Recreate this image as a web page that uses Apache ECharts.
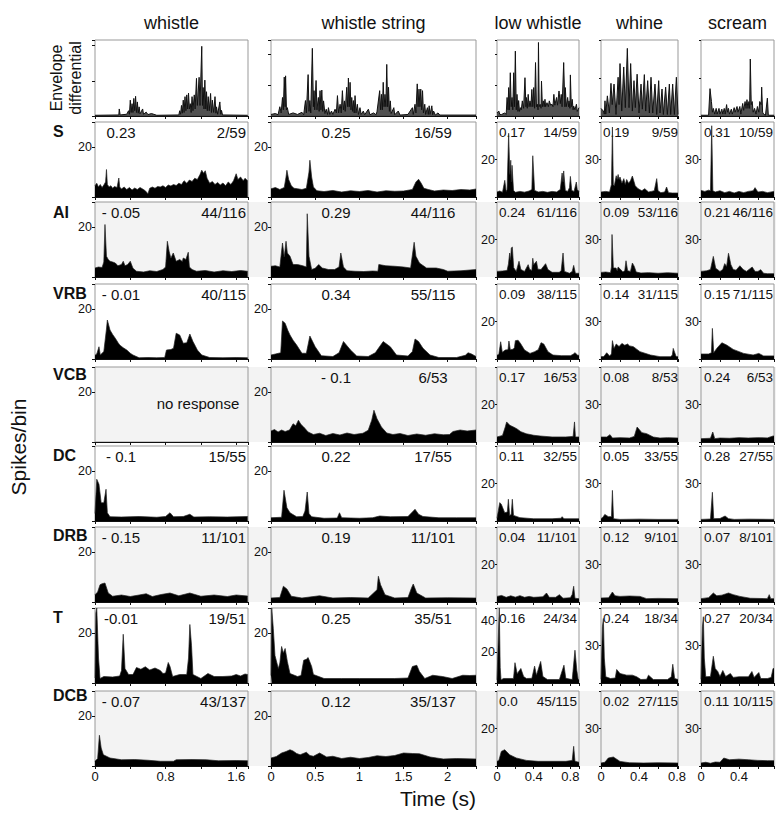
<!DOCTYPE html>
<html><head><meta charset="utf-8">
<script src="https://cdn.jsdelivr.net/npm/echarts@6/dist/echarts.min.js"></script>
<style>html,body{margin:0;padding:0;background:#fff}#main{width:779px;height:814px}</style>
</head><body><div id="main"></div>
<script>
// ---------- categories / labels ----------
const categories = ["whistle","whistle string","low whistle","whine","scream"];
const regions = ["S","AI","VRB","VCB","DC","DRB","T","DCB"];
const correlations = [
  ["0.23","0.25","0.17","0.19","0.31"],
  ["- 0.05","0.29","0.24","0.09","0.21"],
  ["- 0.01","0.34","0.09","0.14","0.15"],
  ["","- 0.1","0.17","0.08","0.24"],
  ["- 0.1","0.22","0.11","0.05","0.28"],
  ["- 0.15","0.19","0.04","0.12","0.07"],
  ["-0.01","0.25","0.16","0.24","0.27"],
  ["- 0.07","0.12","0.0","0.02","0.11"]
];
const fractions = [
  ["2/59","16/59","14/59","9/59","10/59"],
  ["44/116","44/116","61/116","53/116","46/116"],
  ["40/115","55/115","38/115","31/115","71/115"],
  ["","6/53","16/53","8/53","6/53"],
  ["15/55","17/55","32/55","33/55","27/55"],
  ["11/101","11/101","11/101","9/101","8/101"],
  ["19/51","35/51","24/34","18/34","20/34"],
  ["43/137","35/137","45/115","27/115","10/115"]
];
const xTickLabels = [["0","0.8","1.6"],["0","0.5","1","1.5","2"],["0","0.4","0.8"],["0","0.4","0.8"],["0","0.4"]];
const yTickLabels = [["20"],["20"],["20"],["30"],["30"]];
const yTickLabelsTLow = ["20","40"];
const xMax = [1.734,2.32,0.894,0.81,0.77];
const xStep = [0.4,0.5,0.2,0.2,0.2];
const envMax = [2.16,2.46,2.46,2,2];
const histMax = [30,30,40,60,60];
const histMaxTLow = 48;
const yStep = [20,20,20,30,30];

// ---------- envelope differential ----------
const env_whistle = [[0,0.02],[0.27,0.03],[0.275,0.2],[0.285,0.03],[0.36,0.05],[0.38,0.15],[0.39,0.05],[0.40,0.45],[0.41,0.1],[0.42,0.35],[0.43,0.1],[0.44,0.5],[0.45,0.15],[0.46,0.56],[0.47,0.1],[0.48,0.4],[0.49,0.08],[0.50,0.26],[0.51,0.06],[0.54,0.2],[0.55,0.05],[0.58,0.11],[0.6,0.04],[0.64,0.07],[0.7,0.02],[0.95,0.03],[0.96,0.15],[0.97,0.05],[0.98,0.3],[0.99,0.08],[1.0,0.45],[1.01,0.1],[1.02,0.55],[1.03,0.15],[1.04,0.6],[1.05,0.2],[1.06,0.65],[1.07,0.2],[1.08,0.35],[1.09,0.1],[1.1,0.55],[1.11,0.15],[1.125,0.6],[1.135,0.2],[1.15,1.07],[1.16,0.3],[1.18,1.1],[1.19,0.3],[1.21,1.98],[1.218,0.3],[1.226,0.81],[1.235,0.2],[1.245,1.02],[1.255,0.2],[1.264,0.69],[1.273,0.15],[1.283,0.55],[1.295,0.15],[1.31,0.64],[1.32,0.1],[1.33,0.45],[1.345,0.1],[1.36,0.55],[1.37,0.08],[1.377,0.26],[1.39,0.05],[1.415,0.4],[1.425,0.05],[1.434,0.16],[1.445,0.03],[1.45,0.02],[1.73,0.02]];
const env_string = [[0,0.05],[0.05,0.08],[0.08,0.04],[0.1,0.3],[0.115,0.1],[0.13,0.6],[0.14,0.2],[0.15,1.26],[0.16,0.3],[0.165,1.3],[0.175,0.2],[0.185,0.27],[0.2,0.05],[0.25,0.1],[0.3,0.05],[0.35,0.12],[0.37,0.04],[0.39,0.5],[0.4,0.1],[0.42,1.34],[0.43,0.15],[0.44,0.5],[0.45,0.1],[0.468,2.19],[0.48,0.3],[0.487,0.82],[0.495,0.2],[0.51,1.15],[0.52,0.2],[0.536,0.6],[0.545,0.15],[0.555,0.82],[0.565,0.2],[0.575,0.84],[0.585,0.15],[0.595,0.49],[0.61,0.08],[0.625,0.22],[0.64,0.05],[0.65,0.27],[0.665,0.05],[0.685,0.16],[0.7,0.05],[0.725,0.22],[0.74,0.1],[0.752,0.66],[0.765,0.1],[0.782,0.38],[0.795,0.1],[0.808,0.82],[0.82,0.2],[0.831,0.49],[0.84,0.15],[0.857,0.93],[0.868,0.3],[0.876,1.23],[0.886,0.3],[0.895,1.09],[0.905,0.2],[0.914,0.6],[0.924,0.15],[0.932,0.5],[0.942,0.1],[0.951,0.66],[0.962,0.1],[0.977,0.38],[0.99,0.05],[1.007,0.27],[1.02,0.05],[1.045,0.16],[1.06,0.04],[1.102,0.22],[1.12,0.04],[1.16,0.1],[1.19,0.04],[1.2,0.15],[1.23,0.82],[1.24,0.2],[1.25,0.7],[1.26,0.2],[1.27,1.09],[1.28,0.3],[1.29,0.7],[1.3,0.3],[1.31,1.67],[1.32,0.3],[1.33,0.93],[1.34,0.15],[1.35,0.49],[1.36,0.08],[1.39,0.27],[1.4,0.04],[1.44,0.16],[1.46,0.03],[1.55,0.05],[1.6,0.27],[1.61,0.05],[1.63,0.38],[1.64,0.1],[1.655,1.04],[1.665,0.3],[1.675,0.87],[1.685,0.3],[1.695,0.87],[1.705,0.2],[1.715,0.82],[1.725,0.1],[1.74,0.38],[1.75,0.05],[1.77,0.27],[1.78,0.05],[1.79,0.33],[1.8,0.05],[1.82,0.33],[1.83,0.04],[1.84,0.16],[1.86,0.03],[1.89,0.1],[1.91,0.03],[2.32,0.03]];
const env_low = [[0,0.1],[0.02,0.16],[0.03,0.05],[0.05,0.05],[0.085,0.1],[0.1,0.05],[0.11,0.6],[0.12,0.2],[0.127,0.92],[0.135,0.2],[0.145,1.4],[0.155,0.3],[0.164,0.6],[0.172,0.2],[0.182,1.4],[0.19,0.3],[0.2,2.1],[0.21,0.2],[0.218,0.7],[0.228,0.15],[0.236,0.5],[0.245,0.15],[0.255,0.27],[0.265,0.2],[0.276,0.49],[0.29,0.25],[0.305,1.24],[0.315,0.3],[0.32,0.6],[0.33,0.25],[0.34,0.7],[0.35,0.3],[0.36,0.49],[0.37,0.3],[0.38,0.86],[0.39,0.3],[0.4,0.92],[0.41,0.25],[0.42,1.73],[0.43,0.3],[0.44,0.38],[0.447,0.2],[0.452,2.38],[0.46,0.3],[0.47,0.38],[0.48,0.25],[0.485,1.13],[0.495,0.3],[0.505,0.49],[0.515,0.3],[0.523,0.54],[0.53,0.3],[0.545,0.43],[0.56,0.3],[0.57,0.49],[0.585,0.35],[0.6,0.38],[0.61,0.3],[0.62,0.7],[0.63,0.35],[0.65,0.6],[0.66,0.35],[0.676,0.81],[0.69,0.4],[0.7,0.7],[0.71,0.3],[0.727,1.73],[0.74,0.3],[0.745,0.92],[0.755,0.3],[0.77,0.6],[0.78,0.3],[0.785,0.49],[0.795,0.25],[0.8,1.33],[0.81,0.3],[0.82,0.54],[0.83,0.2],[0.836,0.32],[0.85,0.2],[0.866,0.38],[0.875,0.15],[0.894,0.27]];
const env_whine = [[0,0.2],[0.025,0.13],[0.035,0.05],[0.042,0.4],[0.05,0.05],[0.067,0.53],[0.088,0.08],[0.105,0.86],[0.118,0.3],[0.137,0.84],[0.158,0.04],[0.18,1.02],[0.19,0.3],[0.2,1.38],[0.218,0.13],[0.239,1.29],[0.256,0.22],[0.277,1.78],[0.295,0.22],[0.312,1.38],[0.33,0.13],[0.347,0.93],[0.361,0.22],[0.38,1.1],[0.4,0.08],[0.421,0.84],[0.435,0.18],[0.456,1.09],[0.47,0.13],[0.491,0.93],[0.509,0.08],[0.526,1.02],[0.544,0.08],[0.568,0.84],[0.586,0.04],[0.607,0.93],[0.621,0.08],[0.642,0.71],[0.656,0.04],[0.68,0.76],[0.698,0.04],[0.719,0.84],[0.733,0.04],[0.754,0.84],[0.772,0.04],[0.793,1.02],[0.81,0.04]];
const env_scream = [[0,0.02],[0.08,0.02],[0.095,0.72],[0.11,0.38],[0.12,0.1],[0.13,0.2],[0.145,0.05],[0.16,0.2],[0.17,0.05],[0.19,0.2],[0.2,0.05],[0.22,0.18],[0.23,0.05],[0.245,0.2],[0.255,0.05],[0.27,0.3],[0.28,0.1],[0.29,0.2],[0.3,0.05],[0.32,0.18],[0.33,0.05],[0.35,0.22],[0.36,0.1],[0.38,0.25],[0.39,0.1],[0.41,0.25],[0.42,0.05],[0.44,0.33],[0.45,0.15],[0.465,0.38],[0.475,0.2],[0.485,0.43],[0.495,0.2],[0.505,0.38],[0.513,0.2],[0.52,1.5],[0.53,0.3],[0.54,0.38],[0.55,0.1],[0.565,0.2],[0.58,0.05],[0.595,0.25],[0.61,0.1],[0.62,0.38],[0.635,0.3],[0.64,0.76],[0.65,0.1],[0.66,0.05],[0.68,0.02],[0.7,0.47],[0.71,0.02],[0.772,0.02]];

// ---------- spikes/bin: S ----------
const S_whistle = [[0,4.5],[0.02,5.5],[0.04,4],[0.06,5],[0.08,3.8],[0.1,4.8],[0.12,6],[0.13,11],[0.14,5],[0.16,4],[0.18,4.5],[0.2,3.5],[0.22,4.2],[0.25,3.8],[0.27,7.6],[0.28,4],[0.3,3.2],[0.33,4],[0.36,3],[0.39,3.8],[0.42,2.8],[0.45,3.6],[0.48,3],[0.51,3.8],[0.54,3.2],[0.57,2.5],[0.6,1.3],[0.62,3.5],[0.65,4],[0.68,3.5],[0.71,4.2],[0.74,4],[0.77,4.5],[0.8,3.8],[0.83,4.8],[0.86,4.4],[0.89,5],[0.92,4.6],[0.95,5.5],[0.98,5],[1.01,6.5],[1.04,5.5],[1.07,6.8],[1.1,6.2],[1.13,7.5],[1.16,7],[1.19,9],[1.21,10.7],[1.23,9.5],[1.25,10.5],[1.27,7.5],[1.3,5.5],[1.33,6.2],[1.36,5],[1.39,5.8],[1.42,4.8],[1.45,5.6],[1.48,4.5],[1.51,6],[1.54,5],[1.57,6.5],[1.6,9.3],[1.62,7],[1.65,8],[1.68,6.5],[1.7,7.5],[1.73,6.5]];
const S_string = [[0,3.3],[0.05,3.8],[0.1,3],[0.15,3.8],[0.17,8],[0.18,10.7],[0.2,7],[0.23,4.5],[0.26,3.5],[0.3,3.3],[0.35,3],[0.4,3.5],[0.43,10],[0.44,14.7],[0.46,8],[0.48,4],[0.52,2.5],[0.6,2.2],[0.7,2.6],[0.8,2],[0.9,2.5],[1.0,2.2],[1.1,2.6],[1.2,2],[1.3,2.5],[1.4,2.3],[1.5,2.4],[1.6,3],[1.64,6],[1.67,7.1],[1.7,5.5],[1.73,3.5],[1.78,3],[1.85,2.4],[1.95,2.8],[2.05,2.6],[2.15,3],[2.25,2.8],[2.32,3.2]];
const S_low = [[0,2.7],[0.03,3.2],[0.06,2.5],[0.085,8.9],[0.1,3],[0.11,4],[0.127,34],[0.14,12],[0.15,19.6],[0.157,8],[0.164,16.9],[0.18,3.6],[0.2,2.5],[0.25,3],[0.3,2.6],[0.35,3.2],[0.38,4],[0.39,22],[0.41,3.5],[0.45,2.7],[0.5,3],[0.55,2.5],[0.6,3],[0.65,2.7],[0.69,4],[0.71,12.8],[0.72,8],[0.727,13.9],[0.745,3.5],[0.77,3],[0.79,5],[0.8,11],[0.815,3.5],[0.84,3],[0.865,8],[0.875,4],[0.894,3]];
const S_whine = [[0,4],[0.05,4.5],[0.09,4],[0.11,10],[0.12,56],[0.13,10],[0.14,9],[0.16,17],[0.17,14],[0.18,18],[0.19,14],[0.2,16],[0.22,11],[0.24,14.7],[0.255,10],[0.27,14],[0.29,11],[0.31,13],[0.33,16.8],[0.36,9],[0.39,6.7],[0.43,5],[0.46,6.7],[0.5,4],[0.53,4.5],[0.56,5],[0.586,14.7],[0.6,5],[0.63,3.5],[0.67,4],[0.69,8],[0.71,3.5],[0.75,3.2],[0.81,3.2]];
const S_scream = [[0,5.3],[0.04,4.5],[0.08,5.5],[0.1,5],[0.113,57],[0.125,5],[0.15,4],[0.2,5],[0.25,3.5],[0.3,4.5],[0.35,3.2],[0.4,4.5],[0.45,3.5],[0.5,4.5],[0.55,5],[0.57,7.5],[0.6,4],[0.65,4.5],[0.7,3.5],[0.77,4.5]];
// ---------- AI ----------
const AI_whistle = [[0,3.6],[0.04,4],[0.08,3.8],[0.1,6],[0.113,21],[0.125,12],[0.13,8.3],[0.15,7],[0.17,6.3],[0.2,6],[0.23,5.6],[0.26,4.5],[0.3,5],[0.32,6.3],[0.34,4.5],[0.37,5],[0.4,6.3],[0.43,3.5],[0.47,2.3],[0.55,2],[0.62,2.5],[0.7,2.2],[0.77,3],[0.8,4],[0.82,14.3],[0.84,10.3],[0.86,7.5],[0.887,9.6],[0.92,6.3],[0.96,7],[0.99,6.2],[1.0,7.6],[1.03,7],[1.057,9.9],[1.07,4],[1.1,3],[1.15,2.3],[1.25,2.6],[1.35,2],[1.45,2.5],[1.55,2.2],[1.65,2.6],[1.73,2.3]];
const AI_string = [[0,4.3],[0.05,4.5],[0.1,4],[0.13,13.6],[0.15,8],[0.17,14.3],[0.185,9.6],[0.215,8.3],[0.25,5],[0.3,5],[0.36,4.5],[0.4,4],[0.41,25.3],[0.43,8.3],[0.46,3],[0.5,3.5],[0.54,5],[0.58,3.6],[0.65,3],[0.72,3],[0.77,4],[0.79,9.6],[0.82,4],[0.86,2.5],[0.95,2.3],[1.05,2.2],[1.15,2.4],[1.21,2.3],[1.22,5],[1.3,4.5],[1.4,4.3],[1.5,4],[1.58,3.6],[1.62,13.9],[1.64,8.3],[1.68,5.6],[1.76,3.6],[1.87,3.6],[1.95,3],[2.0,2.3],[2.15,2.5],[2.32,3]];
const AI_low = [[0,3],[0.06,3.2],[0.11,3.5],[0.125,7],[0.138,12.8],[0.148,9],[0.156,15.5],[0.167,16],[0.182,5],[0.21,3],[0.24,8.4],[0.26,4],[0.3,3],[0.34,6.6],[0.355,4.2],[0.38,3.5],[0.39,10],[0.4,6.6],[0.43,8.4],[0.445,4.2],[0.48,4],[0.53,7.1],[0.555,4],[0.6,2.5],[0.68,2.5],[0.7,3.5],[0.72,12.8],[0.735,3],[0.79,2],[0.82,3],[0.836,6.2],[0.855,2],[0.894,2]];
const AI_whine = [[0,3.7],[0.05,4],[0.1,3.5],[0.11,8],[0.116,34],[0.13,7.2],[0.158,7.2],[0.17,5],[0.18,8],[0.207,6],[0.23,4],[0.25,5],[0.263,13],[0.28,5],[0.31,4.5],[0.33,11.2],[0.35,8.5],[0.37,4],[0.42,3.2],[0.5,3.5],[0.6,3],[0.7,3.4],[0.81,3]];
const AI_scream = [[0,4.5],[0.06,5],[0.1,6],[0.13,16.5],[0.155,7],[0.2,4.5],[0.23,6],[0.25,10.7],[0.27,8.5],[0.29,19],[0.315,9.9],[0.34,6],[0.37,5.5],[0.41,9],[0.445,6],[0.48,4.5],[0.54,8],[0.57,4.5],[0.6,4.5],[0.63,5.9],[0.66,3],[0.7,2.7],[0.77,2.7]];
// ---------- VRB ----------
const VRB_whistle = [[0,1.5],[0.02,2],[0.045,4.9],[0.06,1.6],[0.1,3],[0.13,12],[0.14,15.6],[0.17,11.6],[0.2,9.8],[0.23,8.3],[0.26,6.6],[0.28,5.6],[0.32,4.5],[0.36,3.6],[0.4,2.3],[0.43,1.6],[0.5,0.5],[0.6,0.6],[0.7,0.5],[0.79,0.6],[0.81,3.6],[0.86,3.8],[0.89,4.3],[0.92,10.3],[0.96,9.6],[1.0,6.3],[1.04,6.5],[1.075,10],[1.11,7],[1.14,5],[1.16,3.6],[1.21,1.6],[1.3,0.6],[1.45,0.5],[1.6,0.6],[1.73,0.5]];
const VRB_string = [[0,1.6],[0.05,2],[0.11,2.5],[0.13,15.2],[0.16,14.3],[0.19,11.5],[0.215,9.6],[0.25,7.5],[0.29,5.6],[0.35,2.3],[0.4,2.3],[0.44,9.2],[0.5,4.9],[0.57,1.3],[0.7,1],[0.77,2.5],[0.82,7],[0.9,3.6],[0.97,1.2],[1.1,1],[1.18,2.5],[1.27,7],[1.35,4.9],[1.42,1.6],[1.55,1.2],[1.6,3],[1.63,8],[1.67,7],[1.72,4.3],[1.8,1.6],[1.9,0.6],[2.1,0.6],[2.2,1.5],[2.23,2.5],[2.27,2],[2.32,1]];
const VRB_low = [[0,2],[0.02,2.5],[0.04,9.2],[0.058,3.6],[0.09,4.8],[0.12,5],[0.13,9.6],[0.145,5],[0.175,5.2],[0.19,6],[0.2,9.8],[0.23,10],[0.255,8.4],[0.3,4.8],[0.36,3],[0.41,3.9],[0.45,5],[0.48,8.7],[0.51,8],[0.556,3.9],[0.61,2.1],[0.7,1.8],[0.8,1.8],[0.83,2.5],[0.85,3.4],[0.88,2],[0.894,2]];
const VRB_whine = [[0,1.9],[0.03,2],[0.06,5],[0.09,2.5],[0.11,4],[0.12,14.7],[0.137,8.5],[0.16,12],[0.19,10],[0.22,12.5],[0.25,11],[0.28,12],[0.3,10.5],[0.34,9.9],[0.41,5.9],[0.52,3.2],[0.62,1.9],[0.73,1.9],[0.75,3],[0.76,8.5],[0.79,2],[0.81,1.9]];
const VRB_scream = [[0,4],[0.08,4],[0.11,5],[0.12,24.5],[0.134,5],[0.166,8.5],[0.22,13],[0.27,11.2],[0.34,7.7],[0.45,4.5],[0.55,3.2],[0.61,4.5],[0.66,2.5],[0.77,2.5]];
// ---------- VCB ----------
const VCB_whistle = [];
const VCB_string = [[0,4.4],[0.04,5],[0.08,4],[0.12,4.8],[0.16,4.2],[0.21,4.8],[0.25,7.3],[0.28,6.5],[0.31,8.7],[0.34,7],[0.37,6],[0.42,4],[0.48,3],[0.55,3.5],[0.62,2.6],[0.7,3.4],[0.78,2.8],[0.86,3.6],[0.94,3],[1.04,3.5],[1.1,4.7],[1.14,8.7],[1.165,12.7],[1.2,9.3],[1.25,6],[1.31,3.6],[1.38,3],[1.46,3.4],[1.55,2.6],[1.65,3.2],[1.75,2.7],[1.85,3.3],[1.95,2.9],[2.02,3],[2.06,4.2],[2.14,4.8],[2.22,4.4],[2.32,4.8]];
const VCB_low = [[0,2.7],[0.06,3.5],[0.09,8],[0.105,10.7],[0.14,8.9],[0.18,8],[0.215,7.1],[0.26,5.5],[0.32,4.4],[0.4,3.6],[0.47,3.2],[0.6,2.7],[0.75,2.7],[0.83,3],[0.845,10.7],[0.855,2.7],[0.894,2.7]];
const VCB_whine = [[0,4],[0.06,4],[0.095,5.9],[0.12,3.2],[0.2,3.5],[0.3,3.2],[0.35,4.5],[0.38,12],[0.43,7.5],[0.48,6.7],[0.55,4],[0.62,3.2],[0.7,3.5],[0.81,3.2]];
const VCB_scream = [[0,2.7],[0.1,3],[0.124,8],[0.145,2.7],[0.2,3.2],[0.3,3],[0.4,3.5],[0.5,3.2],[0.6,3.5],[0.7,3.3],[0.76,4.8],[0.77,4.8]];
// ---------- DC ----------
const DC_whistle = [[0,3],[0.02,16.7],[0.045,14.7],[0.07,7.3],[0.1,7.3],[0.125,12.7],[0.14,3.3],[0.17,1.7],[0.3,1.6],[0.5,1.8],[0.7,1.5],[0.8,1.8],[0.85,3.3],[0.89,1.7],[1.0,1.8],[1.075,2.7],[1.12,1.6],[1.3,1.7],[1.5,1.6],[1.73,1.8]];
const DC_string = [[0,1.3],[0.12,1.5],[0.147,12.3],[0.18,5.3],[0.215,3.3],[0.29,1.7],[0.36,1.8],[0.385,4],[0.41,11.6],[0.43,3],[0.46,1.7],[0.6,1.1],[0.75,1.2],[0.775,3.3],[0.8,1.3],[1.0,1.1],[1.15,1.3],[1.23,2],[1.35,1.7],[1.55,1.8],[1.63,4.7],[1.67,2.7],[1.72,1.8],[1.9,1.3],[2.1,1.3],[2.32,1.3]];
const DC_low = [[0,1.5],[0.03,9.8],[0.047,8.9],[0.084,4.4],[0.113,4.8],[0.124,11.6],[0.138,3],[0.155,3.5],[0.167,11.6],[0.18,3],[0.25,1.8],[0.4,1.2],[0.6,1.2],[0.7,1.5],[0.71,2.3],[0.73,1.2],[0.894,1.2]];
const DC_whine = [[0,1.9],[0.02,3],[0.04,5.3],[0.077,3.5],[0.11,3.5],[0.12,24.5],[0.132,1.8],[0.2,1.3],[0.4,1.5],[0.6,1.3],[0.81,1.3]];
const DC_scream = [[0,1.3],[0.1,1.6],[0.12,23],[0.134,1.9],[0.2,2],[0.254,4],[0.29,1.9],[0.35,1.3],[0.5,1.5],[0.77,1.3]];
// ---------- DRB ----------
const DRB_whistle = [[0,2.9],[0.03,4],[0.057,6.9],[0.08,7.3],[0.113,7.6],[0.15,3.6],[0.2,2.3],[0.3,2.8],[0.4,2.2],[0.5,2.8],[0.58,3.3],[0.65,2.2],[0.75,3],[0.85,3.6],[0.95,2.5],[1.075,3.6],[1.2,2.3],[1.35,2.8],[1.5,2.2],[1.6,2.8],[1.73,2.4]];
const DRB_string = [[0,1.6],[0.1,1.8],[0.14,6.3],[0.18,5.2],[0.23,2.3],[0.35,1.6],[0.55,2.5],[0.7,1.6],[0.9,1.8],[1.1,1.6],[1.2,4.9],[1.215,10.3],[1.24,6.9],[1.29,2.9],[1.4,1.6],[1.55,1.8],[1.59,5.6],[1.61,7.2],[1.65,3.6],[1.75,1.6],[2.0,1.7],[2.32,1.6]];
const DRB_low = [[0,3],[0.05,3.5],[0.1,2.5],[0.15,3.3],[0.2,2.6],[0.25,3.4],[0.3,2.5],[0.35,3],[0.4,2.5],[0.5,2.8],[0.54,4.8],[0.57,2.5],[0.64,2.5],[0.68,3.9],[0.72,2],[0.8,2.3],[0.82,4],[0.836,8.4],[0.85,2],[0.894,1.8]];
const DRB_whine = [[0,3.2],[0.08,3.4],[0.12,8],[0.147,5],[0.2,4.5],[0.3,4.8],[0.41,4.5],[0.48,2.7],[0.6,2.9],[0.81,2.7]];
const DRB_scream = [[0,2.7],[0.08,3.5],[0.13,7.2],[0.166,5],[0.22,5.5],[0.29,7.2],[0.34,5.9],[0.41,4.5],[0.52,3],[0.7,2.7],[0.72,5.9],[0.735,2.7],[0.77,2.7]];
// ---------- T ----------
const T_whistle = [[0,2],[0.01,28],[0.02,30],[0.04,10],[0.057,1.8],[0.1,2.6],[0.2,2.4],[0.28,2.8],[0.3,5],[0.32,19.5],[0.34,5.8],[0.38,3.4],[0.43,3.4],[0.47,6.2],[0.52,5.5],[0.57,6.5],[0.62,5.2],[0.68,6],[0.74,5],[0.77,3.8],[0.8,4],[0.83,8.2],[0.85,6.6],[0.88,2.6],[0.96,3.4],[1.04,3.4],[1.06,10],[1.075,23.4],[1.094,15],[1.11,3.4],[1.2,1.8],[1.28,3.8],[1.35,2.6],[1.45,2.6],[1.55,2.8],[1.6,3.4],[1.65,2.8],[1.7,3.6],[1.73,3.4]];
const T_string = [[0,3],[0.008,30],[0.026,21.8],[0.045,11],[0.083,5.8],[0.1,8],[0.12,14.6],[0.14,12],[0.16,13.8],[0.185,8.6],[0.215,3.8],[0.3,2.6],[0.34,3],[0.37,9.1],[0.4,9.5],[0.42,10.2],[0.46,6.6],[0.48,3.4],[0.6,1.8],[0.8,1.8],[1.0,1.8],[1.2,1.8],[1.4,1.8],[1.55,2],[1.6,6.6],[1.65,7.1],[1.68,4.6],[1.74,1.8],[1.83,3.1],[1.94,2.6],[2.05,1.8],[2.17,3.1],[2.25,3],[2.32,3.1]];
const T_low = [[0,2],[0.02,40],[0.025,48],[0.035,10],[0.044,2],[0.07,2.9],[0.18,2.9],[0.196,13],[0.22,6],[0.26,9.3],[0.29,4.2],[0.32,2.9],[0.38,3],[0.41,10.8],[0.43,5],[0.476,13.8],[0.5,4.2],[0.55,2.2],[0.68,2.2],[0.73,11.4],[0.75,3],[0.82,2.2],[0.85,21],[0.87,8.2],[0.885,2.2],[0.894,2.2]];
const T_whine = [[0,3],[0.015,45],[0.025,51.6],[0.035,20],[0.05,5],[0.1,3.6],[0.15,4],[0.165,10.8],[0.2,7.6],[0.27,6.3],[0.33,6.3],[0.375,5],[0.42,2.8],[0.48,3],[0.5,6.3],[0.55,2.8],[0.7,2.8],[0.74,5],[0.755,15],[0.775,3.6],[0.81,2.8]];
const T_scream = [[0,3],[0.015,45],[0.025,53],[0.035,20],[0.05,5],[0.1,5.2],[0.13,21.4],[0.15,11.6],[0.177,9.2],[0.2,5.2],[0.23,10],[0.26,5.2],[0.31,7.6],[0.34,4.5],[0.4,5],[0.5,5],[0.537,9.2],[0.56,4.5],[0.61,8.4],[0.63,3.6],[0.7,3.6],[0.74,4.5],[0.76,11.6],[0.77,11.6]];
// ---------- DCB ----------
const DCB_whistle = [[0,1.9],[0.03,3],[0.05,12.3],[0.07,7.2],[0.095,4.5],[0.17,3.2],[0.3,2.5],[0.45,2.6],[0.6,2.3],[0.74,1.9],[0.89,1.9],[0.92,2.5],[1.1,2.6],[1.26,2.5],[1.4,2.1],[1.6,2.2],[1.73,2.1]];
const DCB_string = [[0,3.2],[0.06,3.8],[0.12,5.2],[0.17,5.8],[0.215,6.5],[0.25,6],[0.29,5],[0.33,4.5],[0.4,5.5],[0.44,4.2],[0.48,3.9],[0.55,5.2],[0.63,3.6],[0.7,3.9],[0.8,3],[0.9,3.5],[1.0,3],[1.1,3.4],[1.2,4.1],[1.3,3.8],[1.4,4.2],[1.5,5.2],[1.6,5],[1.68,4.9],[1.8,3.6],[1.95,2.8],[2.1,3],[2.32,2.8]];
const DCB_low = [[0,2.5],[0.02,3],[0.047,7.8],[0.084,8.7],[0.138,6],[0.21,4.3],[0.32,3],[0.45,2.5],[0.6,2.5],[0.75,2.5],[0.82,3],[0.836,10.5],[0.85,2.5],[0.894,2]];
const DCB_whine = [[0,2.4],[0.04,3],[0.077,6.4],[0.13,7.2],[0.2,3.7],[0.3,2.6],[0.45,2.4],[0.6,2.6],[0.81,2.4]];
const DCB_scream = [[0,2.4],[0.05,3],[0.1,2.2],[0.15,3.2],[0.2,3],[0.24,6.4],[0.3,5],[0.4,5.5],[0.5,5],[0.6,4.5],[0.7,4.3],[0.77,4.3]];

const panelData = [
  [env_whistle, env_string, env_low, env_whine, env_scream],
  [S_whistle, S_string, S_low, S_whine, S_scream],
  [AI_whistle, AI_string, AI_low, AI_whine, AI_scream],
  [VRB_whistle, VRB_string, VRB_low, VRB_whine, VRB_scream],
  [VCB_whistle, VCB_string, VCB_low, VCB_whine, VCB_scream],
  [DC_whistle, DC_string, DC_low, DC_whine, DC_scream],
  [DRB_whistle, DRB_string, DRB_low, DRB_whine, DRB_scream],
  [T_whistle, T_string, T_low, T_whine, T_scream],
  [DCB_whistle, DCB_string, DCB_low, DCB_whine, DCB_scream]
];

// ---------- layout ----------
const colLeft = [95,271,497,601,701];
const colWidth = [153,205,82,77,73];
const rowTop = [40,122,202,284,367,446,527,608,691];
const panelH = 75;
const grayRows = [2,4,6,8];
const FONT = '"Liberation Sans", Arial, Helvetica, sans-serif';

const grids = [], xAxes = [], yAxes = [], series = [], graphics = [];
const fmtNum = v => String(+(+v).toFixed(2));

grayRows.forEach(r => {
  graphics.push({type:'rect', z:-5, shape:{x:95, y:rowTop[r], width:681, height:panelH}, style:{fill:'#f3f3f3'}});
});

for (let r = 0; r < 9; r++) {
  for (let c = 0; c < 5; c++) {
    const idx = grids.length;
    const gray = grayRows.includes(r);
    grids.push({left: colLeft[c], top: rowTop[r], width: colWidth[c], height: r === 0 ? 76 : panelH,
      show: true, borderColor: '#999', borderWidth: 1, backgroundColor: gray ? '#f3f3f3' : 'transparent'});
    const xl = xTickLabels[c];
    xAxes.push({type:'value', gridIndex: idx, min: 0, max: xMax[c], interval: xStep[c],
      axisLine:{show:true, onZero:false, lineStyle:{color:'#111', width:1}},
      axisTick:{show:true, length:3, lineStyle:{color:'#111'}},
      axisLabel:{show: r === 8, margin: 4, fontSize: 13, color:'#111', fontFamily: FONT,
        formatter: v => xl.includes(fmtNum(v)) ? fmtNum(v) : ''},
      splitLine:{show:false}});
    let ymax, yint, ylabs;
    if (r === 0) { ymax = envMax[c]; yint = 1; ylabs = []; }
    else if (r === 7 && c === 2) { ymax = histMaxTLow; yint = 20; ylabs = yTickLabelsTLow; }
    else { ymax = histMax[c]; yint = yStep[c]; ylabs = yTickLabels[c]; }
    yAxes.push({type:'value', gridIndex: idx, min: 0, max: ymax, interval: yint,
      axisLine:{show:false},
      axisTick:{show:true, length: c < 2 ? 3 : 2, lineStyle:{color:'#111'}},
      axisLabel:{show: ylabs.length > 0, margin: c < 2 ? 3 : 2, fontSize: 12.5, color:'#111', fontFamily: FONT,
        formatter: v => ylabs.includes(fmtNum(v)) ? fmtNum(v) : ''},
      splitLine:{show:false}});
    const d = panelData[r][c];
    if (r === 0) {
      series.push({type:'line', xAxisIndex: idx, yAxisIndex: idx, data: d, symbol:'none', silent:true,
        lineStyle:{color:'#111', width:1}, areaStyle:{color:'#333', opacity:0.85}});
    } else {
      series.push({type:'line', xAxisIndex: idx, yAxisIndex: idx, data: d, symbol:'none', silent:true,
        lineStyle:{color:'#222', width:0.7}, areaStyle:{color:'#000', opacity:1}});
    }
  }
}

// column titles
categories.forEach((t, c) => {
  graphics.push({type:'text', x: colLeft[c] + colWidth[c]/2, y: 23,
    style:{text: t, fontSize: 18, fontFamily: FONT, fill:'#111', align:'center', verticalAlign:'middle'}});
});
// row labels
const rowLabelY = [131, 212, 293, 374, 455, 535, 617, 695];
regions.forEach((t, i) => {
  graphics.push({type:'text', x: 53, y: rowLabelY[i],
    style:{text: t, fontSize: 16, fontWeight:'bold', fontFamily: FONT, fill:'#111', align:'left', verticalAlign:'middle'}});
});
// annotations
const leftPos = [[121,'center'],[336,'center'],[499,'left'],[603,'left'],[704,'left']];
const rightPos = [[246,'right'],[433,'center'],[577,'right'],[678,'right'],[773,'right']];
for (let i = 0; i < 8; i++) {
  for (let c = 0; c < 5; c++) {
    const fs = c < 2 ? 15 : 13.5;
    const y = rowTop[i+1] + 10;
    if (correlations[i][c]) graphics.push({type:'text', x: leftPos[c][0], y: y,
      style:{text: correlations[i][c], fontSize: fs, fontFamily: FONT, fill:'#111', align: leftPos[c][1], verticalAlign:'middle'}});
    if (fractions[i][c]) graphics.push({type:'text', x: rightPos[c][0], y: y,
      style:{text: fractions[i][c], fontSize: fs, fontFamily: FONT, fill:'#111', align: rightPos[c][1], verticalAlign:'middle'}});
  }
}
graphics.push({type:'text', x: 198, y: 403,
  style:{text:'no response', fontSize: 15, fontFamily: FONT, fill:'#111', align:'center', verticalAlign:'middle'}});
graphics.push({type:'text', x: 56, y: 78, rotation: Math.PI/2,
  style:{text:'Envelope', fontSize: 16, fontFamily: FONT, fill:'#111', align:'center', verticalAlign:'middle'}});
graphics.push({type:'text', x: 75, y: 78, rotation: Math.PI/2,
  style:{text:'differential', fontSize: 16, fontFamily: FONT, fill:'#111', align:'center', verticalAlign:'middle'}});
graphics.push({type:'text', x: 18, y: 447, rotation: Math.PI/2,
  style:{text:'Spikes/bin', fontSize: 21, fontFamily: FONT, fill:'#111', align:'center', verticalAlign:'middle'}});
graphics.push({type:'text', x: 438, y: 798,
  style:{text:'Time (s)', fontSize: 21, fontFamily: FONT, fill:'#111', align:'center', verticalAlign:'middle'}});

const chart = echarts.init(document.getElementById('main'), null, {renderer:'svg'});
chart.setOption({
  animation: false,
  backgroundColor: '#fff',
  grid: grids, xAxis: xAxes, yAxis: yAxes, series: series,
  graphic: {elements: graphics}
});
</script>
</body></html>
